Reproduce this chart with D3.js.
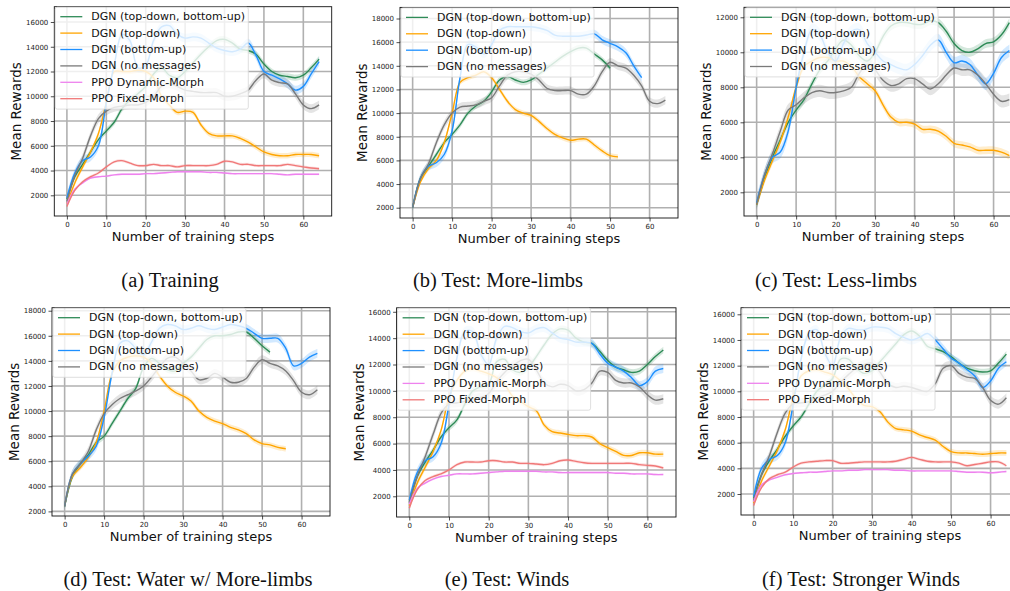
<!DOCTYPE html>
<html>
<head>
<meta charset="utf-8">
<script src="https://cdn.jsdelivr.net/npm/d3@7"></script>
<style>
  body { margin: 0; background: #fff; }
  svg { display: block; }
</style>
</head>
<body>
<div id="chart"></div>
<script>
"use strict";

// SECTION: data (mean rewards, every 2 training steps)
const STEPS = [0,2,4,6,8,10,12,14,16,18,20,22,24,26,28,30,32,34,36,38,40,42,44,46,48,50,52,54,56,58,60,62,64];
const X_TICKS = [0,10,20,30,40,50,60];
const SERIES_KEYS = ["tdbu","td","bu","nm","dyn","fix"];
const SERIES_LABELS = ["DGN (top-down, bottom-up)","DGN (top-down)","DGN (bottom-up)","DGN (no messages)","PPO Dynamic-Morph","PPO Fixed-Morph"];
// rough spread of the shaded band for each method
const SERIES_STD = [250, 220, 350, 350, 80, 120];

// (a) Training
const a_tdbu = [1700,3500,4500,5500,6500,7200,7900,9000,9700,10200,10800,11800,12300,11700,11500,12000,12700,13400,14000,14500,14600,14300,13800,13700,13400,12600,12000,11700,11600,11500,11700,12300,13000];
const a_td   = [1300,3000,4300,5500,7000,9500,12000,12000,12000,12100,12000,11500,10000,9300,8700,8800,8700,7700,7000,6800,6800,6800,6600,6300,5900,5500,5300,5200,5200,5300,5300,5300,5200];
const a_bu   = [1800,3800,4800,5100,6000,9500,12500,15000,14500,12300,12500,14500,15600,15700,15000,14700,14800,14700,14300,13900,13700,13600,13800,14300,13300,12000,11700,11400,11000,10500,10800,11800,12800];
const a_nm   = [1500,3600,5000,6800,8200,8800,9100,9200,9300,9300,9500,10000,10800,11000,10800,10500,10400,10300,10300,10300,10000,10000,10200,10500,11300,11800,11300,11100,11000,10200,9300,9000,9300];
const a_dyn  = [1300,2500,3000,3400,3500,3550,3650,3700,3700,3700,3750,3750,3800,3850,3900,3900,3900,3900,3850,3850,3800,3750,3750,3750,3750,3750,3750,3700,3650,3700,3700,3700,3700];
const a_fix  = [1100,2400,3100,3500,3800,4300,4700,4800,4600,4400,4400,4500,4400,4400,4300,4400,4400,4400,4400,4500,4750,4700,4500,4500,4400,4400,4400,4400,4500,4400,4300,4200,4150];

// (b) Test: More-limbs
const b_tdbu = [2000,4500,5500,6500,7500,8200,9000,10000,10600,11000,11800,12800,13100,12800,12600,12800,13300,13800,14300,14800,15200,15500,15500,15000,14500,13800];
const b_td   = [2000,4200,5300,6000,7500,10000,12600,13000,13200,13500,13000,12000,11000,10300,10000,9800,9300,8700,8200,7900,7700,7800,7800,7300,6800,6400,6300];
const b_bu   = [2000,4500,5500,5800,6500,8500,13000,15800,15600,15000,15800,17000,17300,17300,17300,17300,17200,17000,16600,16500,16500,16500,16600,16700,16200,15900,15600,15100,14000,13000];
const b_nm   = [2000,4500,5700,7500,9000,10000,10500,10600,10700,11000,11300,12300,13200,13500,13500,13300,12800,12100,11900,11900,11900,11600,11600,12300,13500,14300,14000,13800,13200,12300,11000,10800,11100];

// (c) Test: Less-limbs
const c_tdbu = [1300,2800,4000,5000,6000,6700,7300,8200,9000,9500,10200,10700,10400,9800,9500,10000,10900,11500,11700,11700,11600,11600,11800,11700,11200,10500,10100,10000,10200,10500,10600,11000,11700];
const c_td   = [1300,2700,3800,4900,6300,8000,9200,9500,9700,9700,9500,9500,9200,8600,8200,7800,7000,6300,6000,6000,5900,5600,5600,5500,5200,4800,4700,4600,4400,4400,4400,4300,4100];
const c_bu   = [1400,3000,4000,4300,5500,8000,10000,11300,11000,10000,9500,10500,11200,11300,10500,10000,9500,9300,9100,9000,9300,9800,10400,10700,10000,9400,9500,9300,8700,8200,8800,9700,10100];
const c_nm   = [1300,3000,4200,5500,6700,7000,7400,7700,7800,7700,7700,7800,8000,8800,9300,9000,8400,8100,8200,8500,8500,8200,7900,8200,8700,9100,9000,9000,8700,8200,7600,7200,7300];

// (d) Test: Water w/ More-limbs
const d_tdbu = [2400,4800,5800,6500,7500,8000,9000,10000,11000,11800,13500,14200,13800,13300,13200,13800,14300,15000,15700,16000,16000,16100,16300,16300,15800,15200,14700];
const d_td   = [2400,4800,5500,6300,7500,10000,13000,14000,14300,14400,14300,13800,12800,12000,11500,11200,10800,10000,9500,9200,9000,8700,8500,8200,7700,7400,7300,7100,7000];
const d_bu   = [2400,5000,5800,6400,7200,9500,13000,15400,15600,15000,14500,15500,16600,16900,16800,16500,16600,16800,16600,16500,16700,16900,16800,16600,16200,15800,15800,15800,15000,13600,13800,14300,14600];
const d_nm   = [2400,5000,5800,6800,8500,9800,10500,11000,11300,11600,12000,12700,13500,14200,14300,13800,13200,12500,12600,13000,12700,12300,12300,12600,13500,14100,13800,13600,13200,12400,11500,11300,11700];

// (e) Test: Winds
const e_tdbu = [1600,3500,4600,5500,6500,7200,7800,9000,10000,10300,10500,12200,12400,11600,11400,11800,12600,13500,14300,14700,14600,14000,13700,13600,13000,12300,11800,11600,11400,11500,12000,12600,13100];
const e_td   = [1300,3000,4200,5400,7000,9500,10800,11500,11700,11500,11300,11000,10500,9600,9200,8800,8500,7400,6900,6800,6700,6600,6600,6500,6000,5700,5400,5100,5100,5300,5300,5200,5200];
const e_bu   = [1700,3800,4700,5000,6000,9000,12500,14500,14500,12800,12000,14000,14900,14800,14500,14400,14700,14800,14400,14000,13900,13700,13700,13600,12800,12100,11800,11500,11000,10400,10700,11500,11700];
const e_nm   = [1500,3500,5000,6700,8300,9000,9100,9200,9400,9500,9800,10700,11400,11900,12300,12400,11600,10600,10300,10500,10400,10000,10100,10600,11500,11400,10800,10600,10600,10300,9700,9300,9400];
const e_dyn  = [1400,2600,3000,3300,3500,3600,3700,3700,3700,3750,3800,3850,3900,3900,3900,3900,3900,3850,3850,3800,3800,3800,3800,3800,3800,3800,3750,3750,3700,3700,3700,3650,3650];
const e_fix  = [1100,2500,3200,3500,3700,4000,4400,4600,4600,4600,4700,4700,4600,4600,4500,4500,4450,4400,4500,4700,4750,4650,4550,4500,4500,4500,4500,4500,4500,4400,4350,4300,4150];

// (f) Test: Stronger Winds
const f_tdbu = [1700,3500,4600,5500,6500,7300,8000,9000,10000,10500,11000,12500,12500,11800,11400,11600,12300,13000,13700,14400,14700,14300,13500,13300,13100,12700,12200,11800,11600,11500,11600,12200,12900];
const f_td   = [1300,3000,4200,5400,7000,9500,11200,11600,11700,11500,11300,10800,10200,9400,8900,8800,8400,7600,7100,7000,6900,6600,6400,6200,5700,5300,5200,5200,5150,5100,5150,5200,5200];
const f_bu   = [1800,4000,4700,5000,6000,9000,12500,14500,14800,13000,12000,14200,14900,14800,14800,15000,15000,14900,14500,14200,14000,14200,14500,14000,13300,12600,12200,11700,11200,10300,10800,11800,12300];
const f_nm   = [1500,3500,5000,6800,8300,9000,9100,9200,9500,9700,10000,10700,11300,11800,12100,12200,11500,10600,10300,10400,10300,10100,10000,10600,11800,12000,11400,11100,11000,10300,9300,9000,9500];
const f_dyn  = [1400,2700,3100,3300,3500,3600,3650,3700,3700,3750,3800,3800,3850,3850,3900,3900,3900,3900,3850,3850,3800,3800,3800,3800,3800,3800,3750,3700,3700,3700,3650,3700,3750];
const f_fix  = [1100,2500,3200,3500,3700,4100,4400,4500,4550,4600,4600,4400,4400,4450,4500,4500,4500,4500,4550,4700,4850,4700,4550,4500,4500,4500,4400,4200,4300,4400,4500,4500,4200];

// y tick labels per panel
const ticks16 = [2000,4000,6000,8000,10000,12000,14000,16000];
const ticks18 = [2000,4000,6000,8000,10000,12000,14000,16000,18000];
const ticks12 = [2000,4000,6000,8000,10000,12000];

const CAPTIONS = ["(a) Training","(b) Test: More-limbs","(c) Test: Less-limbs",
                  "(d) Test: Water w/ More-limbs","(e) Test: Winds","(f) Test: Stronger Winds"];

// SECTION: styling
const COLORS = { tdbu: "#2e8b57", td: "#ffa500", bu: "#1e90ff", nm: "#7a7a7a", dyn: "#ee82ee", fix: "#f07878" };
const FONT = "'DejaVu Sans', sans-serif";

const panels = [
  { left: 54.3, top: 6.7,   w: 277.4, h: 209.3, yDom: [328, 17236],  yTicks: ticks16, capX: 170, capY: 287,
    data: { tdbu: a_tdbu, td: a_td, bu: a_bu, nm: a_nm, dyn: a_dyn, fix: a_fix } },
  { left: 400,  top: 7.4,   w: 278,   h: 210.6, yDom: [1129, 18939], yTicks: ticks18, capX: 498, capY: 287,
    data: { tdbu: b_tdbu, td: b_td, bu: b_bu, nm: b_nm } },
  { left: 744,  top: 7.3,   w: 278,   h: 208.7, yDom: [646, 12571],  yTicks: ticks12, capX: 836, capY: 287,
    data: { tdbu: c_tdbu, td: c_td, bu: c_bu, nm: c_nm } },
  { left: 52,   top: 307.7, w: 278,   h: 208.3, yDom: [1633, 18240], yTicks: ticks18, capX: 188, capY: 586,
    data: { tdbu: d_tdbu, td: d_td, bu: d_bu, nm: d_nm } },
  { left: 396.6,top: 307.8, w: 279.4, h: 209.2, yDom: [429, 16303],  yTicks: ticks16, capX: 507, capY: 586,
    data: { tdbu: e_tdbu, td: e_td, bu: e_bu, nm: e_nm, dyn: e_dyn, fix: e_fix } },
  { left: 741,  top: 307.7, w: 278,   h: 207.3, yDom: [364, 16514],  yTicks: ticks16, capX: 861, capY: 586,
    data: { tdbu: f_tdbu, td: f_td, bu: f_bu, nm: f_nm, dyn: f_dyn, fix: f_fix } }
];

const svg = d3.select("#chart")
    .append("svg")
    .attr("width", 1010)
    .attr("height", 591)
    .style("font-family", FONT);

panels.forEach((p, pi) => {
  const x = d3.scaleLinear().domain([-3.2, 67.2]).range([0, p.w]);
  const y = d3.scaleLinear().domain(p.yDom).range([p.h, 0]);
  const g = svg.append("g").attr("transform", `translate(${p.left},${p.top})`);

  // clip lines to the axes box
  const clipId = "clip" + pi;
  g.append("clipPath").attr("id", clipId)
    .append("rect").attr("width", p.w).attr("height", p.h);

  // grid
  const grid = g.append("g").attr("clip-path", `url(#${clipId})`);
  grid.selectAll(".vg").data(X_TICKS).enter().append("line")
      .attr("x1", d => x(d)).attr("x2", d => x(d))
      .attr("y1", 0).attr("y2", p.h)
      .attr("stroke", "#b0b0b0").attr("stroke-width", 1.6);
  grid.selectAll(".hg").data(p.yTicks).enter().append("line")
      .attr("x1", 0).attr("x2", p.w)
      .attr("y1", d => y(d)).attr("y2", d => y(d))
      .attr("stroke", "#b0b0b0").attr("stroke-width", 1.6);

  // bands + lines
  const plot = g.append("g").attr("clip-path", `url(#${clipId})`);
  const keys = SERIES_KEYS.filter(k => p.data[k]);
  keys.forEach(k => {
    const std = SERIES_STD[SERIES_KEYS.indexOf(k)];
    const pts = p.data[k].map((v, i) => ({ s: STEPS[i], v: v }));
    const area = d3.area()
        .x(d => x(d.s))
        .y0(d => y(d.v - std))
        .y1(d => y(d.v + std))
        .curve(d3.curveCatmullRom.alpha(0.5));
    plot.append("path").datum(pts)
        .attr("d", area)
        .attr("fill", COLORS[k])
        .attr("fill-opacity", 0.2);
  });
  keys.forEach(k => {
    const pts = p.data[k].map((v, i) => ({ s: STEPS[i], v: v }));
    const line = d3.line()
        .x(d => x(d.s))
        .y(d => y(d.v))
        .curve(d3.curveCatmullRom.alpha(0.5));
    plot.append("path").datum(pts)
        .attr("d", line)
        .attr("fill", "none")
        .attr("stroke", COLORS[k])
        .attr("stroke-width", 1.4);
  });

  // axes
  const xa = g.append("g").attr("transform", `translate(0,${p.h})`)
      .call(d3.axisBottom(x).tickValues(X_TICKS).tickSize(3.5).tickPadding(2.5));
  const ya = g.append("g")
      .call(d3.axisLeft(y).tickValues(p.yTicks).tickSize(3.5).tickPadding(2.5).tickFormat(d3.format("d")));
  [xa, ya].forEach(a => {
    a.select(".domain").remove();
    a.selectAll("text").style("font-family", FONT).style("font-size", "7px").attr("fill", "#222");
    a.selectAll("line").attr("stroke", "#222").attr("stroke-width", 0.8);
  });

  // spines
  g.append("rect")
      .attr("width", p.w).attr("height", p.h)
      .attr("fill", "none").attr("stroke", "#111").attr("stroke-width", 0.9);

  // legend
  const lg = g.append("g").attr("transform", "translate(1,0.5)");
  lg.append("rect")
      .attr("width", 193).attr("height", 16.4 * keys.length + 3.5)
      .attr("rx", 2)
      .attr("fill", "#fff").attr("fill-opacity", 0.8)
      .attr("stroke", "#d6d6d6").attr("stroke-width", 0.8);
  keys.forEach((k, i) => {
    const ly = 9.5 + 16.4 * i;
    lg.append("line")
        .attr("x1", 5).attr("x2", 27).attr("y1", ly).attr("y2", ly)
        .attr("stroke", COLORS[k]).attr("stroke-width", 1.3);
    lg.append("text")
        .attr("x", 36).attr("y", ly)
        .attr("dominant-baseline", "central")
        .style("font-size", "11px")
        .attr("fill", "#111")
        .text(SERIES_LABELS[SERIES_KEYS.indexOf(k)]);
  });

  // axis labels
  g.append("text")
      .attr("x", p.w / 2).attr("y", p.h + 25)
      .attr("text-anchor", "middle")
      .style("font-size", "13px")
      .attr("fill", "#111")
      .text("Number of training steps");
  g.append("text")
      .attr("transform", `translate(-38,${p.h / 2}) rotate(-90)`)
      .attr("text-anchor", "middle")
      .attr("dominant-baseline", "central")
      .style("font-size", "13.5px")
      .attr("fill", "#111")
      .text("Mean Rewards");

  // caption
  svg.append("text")
      .attr("x", p.capX).attr("y", p.capY)
      .attr("text-anchor", "middle")
      .style("font-family", "'Liberation Serif', 'Times New Roman', serif")
      .style("font-size", "20.5px")
      .attr("fill", "#111")
      .text(CAPTIONS[pi]);
});
</script>
</body>
</html>
